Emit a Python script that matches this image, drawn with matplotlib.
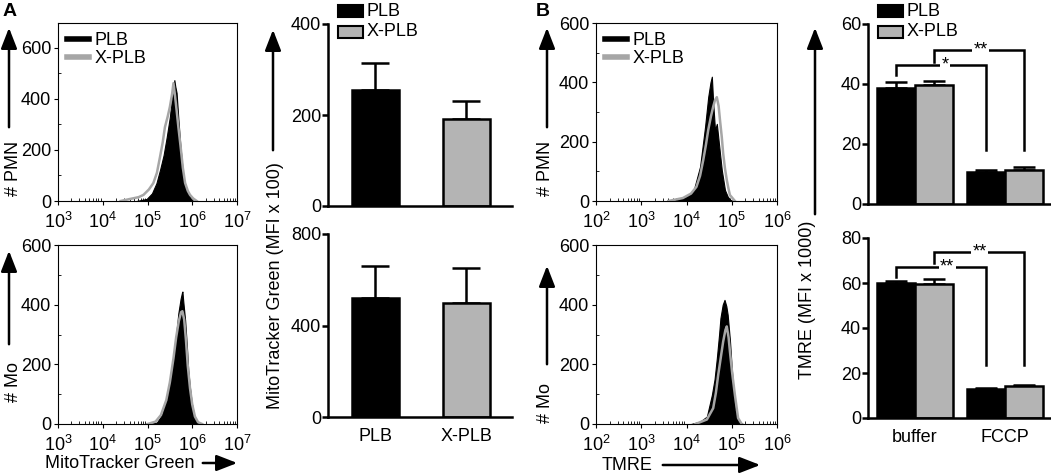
import numpy as np
import matplotlib
matplotlib.use('Agg')
import matplotlib.pyplot as plt
from matplotlib.ticker import LogLocator, NullFormatter, MultipleLocator

plt.rcParams['font.family'] = ['Liberation Sans', 'DejaVu Sans']
plt.rcParams['mathtext.default'] = 'regular'
plt.rcParams['font.size'] = 13

W, H = 1051, 474
GRAY_BAR = '#b4b4b4'
GRAY_LINE = '#a6a6a6'
FS = 13

# ---- histogram data (log10 intensity, counts) ----
a_pmn_plb_x = [4.75, 4.98, 5.10, 5.20, 5.28, 5.36, 5.43, 5.50, 5.54, 5.58, 5.60, 5.62, 5.65, 5.69, 5.73, 5.77, 5.80, 5.85, 5.91, 5.96, 6.02]
a_pmn_plb_y = [0, 8, 30, 70, 122, 180, 251, 330, 396, 440, 474, 450, 424, 320, 227, 150, 94, 60, 31, 12, 0]
a_pmn_xplb_x = [4.40, 4.61, 4.80, 4.91, 5.03, 5.13, 5.21, 5.28, 5.34, 5.39, 5.45, 5.50, 5.55, 5.58, 5.61, 5.65, 5.69, 5.74, 5.79, 5.84, 5.90, 5.95, 6.02, 6.10]
a_pmn_xplb_y = [0, 8, 15, 24, 45, 70, 110, 173, 230, 290, 330, 369, 420, 462, 420, 357, 290, 213, 130, 71, 40, 24, 10, 0]

a_mo_plb_x = [5.05, 5.21, 5.32, 5.43, 5.50, 5.58, 5.64, 5.69, 5.74, 5.77, 5.78, 5.80, 5.84, 5.88, 5.91, 5.95, 5.99, 6.04, 6.10, 6.20]
a_mo_plb_y = [0, 5, 30, 80, 140, 226, 300, 372, 420, 440, 444, 410, 349, 260, 181, 120, 70, 30, 8, 0]
a_mo_xplb_x = [5.00, 5.18, 5.30, 5.42, 5.50, 5.58, 5.64, 5.70, 5.75, 5.78, 5.82, 5.86, 5.90, 5.95, 6.00, 6.06, 6.13, 6.22]
a_mo_xplb_y = [0, 8, 30, 80, 140, 220, 290, 345, 375, 378, 350, 280, 195, 120, 65, 25, 6, 0]

b_pmn_plb_x = [3.70, 4.00, 4.15, 4.30, 4.41, 4.48, 4.53, 4.56, 4.59, 4.63, 4.67, 4.70, 4.74, 4.78, 4.85, 4.91, 4.96, 5.02]
b_pmn_plb_y = [0, 15, 31, 116, 250, 351, 400, 419, 330, 239, 260, 217, 160, 104, 37, 15, 5, 0]
b_pmn_xplb_x = [3.60, 3.92, 4.10, 4.22, 4.30, 4.37, 4.43, 4.48, 4.54, 4.59, 4.63, 4.67, 4.71, 4.74, 4.78, 4.81, 4.85, 4.89, 4.93, 4.96, 5.07]
b_pmn_xplb_y = [0, 10, 25, 48, 85, 138, 190, 239, 285, 318, 340, 350, 320, 273, 215, 161, 110, 71, 40, 20, 0]

b_mo_plb_x = [4.10, 4.30, 4.45, 4.56, 4.62, 4.67, 4.72, 4.75, 4.80, 4.84, 4.88, 4.91, 4.96, 5.00, 5.04, 5.07, 5.14, 5.25]
b_mo_plb_y = [0, 8, 25, 97, 150, 220, 300, 355, 400, 416, 395, 366, 280, 187, 110, 53, 8, 0]
b_mo_xplb_x = [4.20, 4.45, 4.59, 4.65, 4.70, 4.76, 4.81, 4.86, 4.89, 4.93, 4.96, 5.01, 5.07, 5.14, 5.22]
b_mo_xplb_y = [0, 15, 53, 105, 164, 225, 276, 315, 327, 290, 243, 170, 97, 20, 0]

# ---- bar data ----
groups_a = ['PLB', 'X-PLB']
mito_pmn = [255, 191]
mito_pmn_err = [59, 40]
mito_mo = [520, 498]
mito_mo_err = [140, 152]

groups_b = ['buffer', 'FCCP']
tmre_pmn_plb = [38.7, 10.7]
tmre_pmn_plb_err = [2.0, 0.5]
tmre_pmn_xplb = [39.7, 11.2]
tmre_pmn_xplb_err = [1.3, 1.0]
tmre_mo_plb = [60.1, 12.9]
tmre_mo_plb_err = [0.6, 0.5]
tmre_mo_xplb = [59.6, 14.4]
tmre_mo_xplb_err = [2.2, 0.4]


def rect(l, r, t, b):
    return [l / W, (H - b) / H, (r - l) / W, (b - t) / H]


def fx(px):
    return px / W


def fy(py):
    return (H - py) / H


fig = plt.figure(figsize=(W / 100, H / 100), dpi=100)


def hist_ax(pos, xlo, xhi, ytop, plb, xplb, legend=False):
    ax = fig.add_axes(pos)
    ax.fill_between(10 ** np.array(plb[0]), plb[1], 0, color='black', lw=0.8, edgecolor='black')
    ax.plot(10 ** np.array(xplb[0]), xplb[1], color=GRAY_LINE, lw=1.8)
    ax.set_xscale('log')
    ax.set_xlim(10 ** xlo, 10 ** xhi)
    ax.set_ylim(0, ytop)
    ax.set_yticks([0, 200, 400, 600])
    ax.yaxis.set_minor_locator(MultipleLocator(100))
    ax.xaxis.set_major_locator(LogLocator(base=10, numticks=10))
    ax.xaxis.set_minor_locator(LogLocator(base=10, subs=np.arange(2, 10), numticks=20))
    ax.xaxis.set_minor_formatter(NullFormatter())
    ax.tick_params(which='major', direction='out', length=3, width=0.8, labelsize=FS, pad=2)
    ax.tick_params(axis='x', which='major', pad=5)
    ax.tick_params(which='minor', direction='in', length=2, width=0.6)
    for s in ax.spines.values():
        s.set_linewidth(0.8)
    if legend:
        ax.plot([], [], color='black', lw=4, label='PLB')
        ax.plot([], [], color=GRAY_LINE, lw=4, label='X-PLB')
        h, l = ax.get_legend_handles_labels()
        ax.legend(h[-2:], l[-2:], loc='upper left', frameon=False, fontsize=FS,
                  handlelength=1.2, handletextpad=0.3, labelspacing=0.05,
                  borderaxespad=0.2, borderpad=0.3)
    return ax


def bar_style(ax):
    for s in ['top', 'right']:
        ax.spines[s].set_visible(False)
    for s in ['left', 'bottom']:
        ax.spines[s].set_linewidth(1.8)
    ax.tick_params(axis='y', direction='out', length=4, width=1.8, labelsize=FS, pad=1)
    ax.tick_params(axis='x', length=0, labelsize=FS, pad=8)


def bar_legend(x0, y0):
    # legend boxes above the axes, in figure pixels
    for i, (c, lab) in enumerate([('black', 'PLB'), (GRAY_BAR, 'X-PLB')]):
        top = y0 + i * 21
        fig.patches.append(plt.Rectangle((fx(x0), fy(top + 12)), 25 / W, 12 / H,
                                         transform=fig.transFigure, facecolor=c,
                                         edgecolor='black', lw=1.5))
        fig.text(fx(x0 + 29), fy(top + 6), lab, fontsize=FS, va='center', ha='left')


# ---- panel A histograms ----
hist_ax(rect(58, 237, 23, 201), 3, 7, 698, (a_pmn_plb_x, a_pmn_plb_y), (a_pmn_xplb_x, a_pmn_xplb_y), legend=True)
hist_ax(rect(58, 237, 245, 424), 3, 7, 600, (a_mo_plb_x, a_mo_plb_y), (a_mo_xplb_x, a_mo_xplb_y))

# ---- panel A bars ----
xa = np.arange(len(groups_a))
for pos, vals, errs, top, ticks, showx in [
        (rect(328, 512, 24, 206), mito_pmn, mito_pmn_err, 400, [0, 200, 400], False),
        (rect(328, 512, 234, 417), mito_mo, mito_mo_err, 800, [0, 400, 800], True)]:
    ax = fig.add_axes(pos)
    ax.bar(xa, vals, width=0.52, color=['black', GRAY_BAR], edgecolor='black', lw=1.8, zorder=2)
    ax.errorbar(xa, vals, yerr=[[0, 0], errs], fmt='none', ecolor='black', elinewidth=1.8,
                capsize=10, capthick=1.8, zorder=1)
    ax.set_xlim(-0.52, 1.5)
    ax.set_ylim(0, top)
    ax.set_yticks(ticks)
    bar_style(ax)
    ax.set_xticks(xa)
    if showx:
        ax.set_xticklabels(groups_a)
    else:
        ax.set_xticklabels([])
bar_legend(338, 5)

# ---- panel B histograms ----
hist_ax(rect(596, 777, 23, 201), 2, 6, 600, (b_pmn_plb_x, b_pmn_plb_y), (b_pmn_xplb_x, b_pmn_xplb_y), legend=True)
hist_ax(rect(596, 777, 245, 424), 2, 6, 600, (b_mo_plb_x, b_mo_plb_y), (b_mo_xplb_x, b_mo_xplb_y))

# ---- panel B bars ----
xb = np.arange(len(groups_b))
bw = 0.42


def bracket(ax, x1, y1, x2, ytop, yend, label, xl):
    ax.plot([x1, x1, x2, x2], [y1, ytop, ytop, yend], color='black', lw=1.8,
            solid_joinstyle='miter', zorder=3)
    ax.text(xl, ytop, label, ha='center', va='center', fontsize=FS,
            bbox=dict(facecolor='white', edgecolor='none', pad=1), zorder=4)


for pos, plb, plb_e, xplb, xplb_e, top, ticks, br, showx in [
        (rect(868, 1050, 24, 204), tmre_pmn_plb, tmre_pmn_plb_err, tmre_pmn_xplb, tmre_pmn_xplb_err,
         60, [0, 20, 40, 60], [(43, 46.3, 18, '*', 0.34), (47.3, 51.3, 18, '**', 0.73)], False),
        (rect(868, 1050, 238, 418), tmre_mo_plb, tmre_mo_plb_err, tmre_mo_xplb, tmre_mo_xplb_err,
         80, [0, 20, 40, 60, 80], [(62.8, 67.2, 23.5, '**', 0.36), (68.9, 73.9, 23.5, '**', 0.72)], True)]:
    ax = fig.add_axes(pos)
    ax.bar(xb - bw / 2, plb, width=bw, color='black', edgecolor='black', lw=1.8, zorder=2)
    ax.bar(xb + bw / 2, xplb, width=bw, color=GRAY_BAR, edgecolor='black', lw=1.8, zorder=2)
    ax.errorbar(xb - bw / 2, plb, yerr=[[0, 0], plb_e], fmt='none', ecolor='black',
                elinewidth=1.8, capsize=8, capthick=1.8, zorder=1)
    ax.errorbar(xb + bw / 2, xplb, yerr=[[0, 0], xplb_e], fmt='none', ecolor='black',
                elinewidth=1.8, capsize=8, capthick=1.8, zorder=1)
    ax.set_xlim(-0.52, 1.5)
    ax.set_ylim(0, top)
    ax.set_yticks(ticks)
    bar_style(ax)
    ax.set_xticks(xb)
    ax.set_xticklabels(groups_b if showx else [])
    (l1, t1, e1, s1, x1), (l2, t2, e2, s2, x2) = br
    bracket(ax, -bw / 2, l1, 1 - bw / 2, t1, e1, s1, x1)
    bracket(ax, bw / 2, l2, 1 + bw / 2, t2, e2, s2, x2)
bar_legend(878, 5)

# ---- labels and arrows ----
def arrow(x0, y0, x1, y1):
    fig.add_artist(matplotlib.patches.FancyArrowPatch(
        (fx(x0), fy(y0)), (fx(x1), fy(y1)), transform=fig.transFigure,
        arrowstyle='-|>,head_width=0.35,head_length=0.9', mutation_scale=14,
        lw=1.8, color='black'))


arrow(9, 130, 9, 25)
fig.text(fx(14), fy(168), '# PMN', rotation=90, ha='center', va='center', fontsize=FS)
arrow(9, 347, 9, 248)
fig.text(fx(14), fy(382), '# Mo', rotation=90, ha='center', va='center', fontsize=FS)
fig.text(fx(120), fy(463), 'MitoTracker Green', ha='center', va='center', fontsize=FS)
arrow(200, 463, 240, 463)

arrow(273, 153, 273, 27)
fig.text(fx(276), fy(286), 'MitoTracker Green (MFI x 100)', rotation=90, ha='center', va='center', fontsize=FS)

arrow(547, 130, 547, 25)
fig.text(fx(545), fy(168), '# PMN', rotation=90, ha='center', va='center', fontsize=FS)
arrow(547, 367, 547, 263)
fig.text(fx(545), fy(403), '# Mo', rotation=90, ha='center', va='center', fontsize=FS)
fig.text(fx(627), fy(465), 'TMRE', ha='center', va='center', fontsize=FS)
arrow(660, 465, 763, 465)

arrow(815, 217, 815, 25)
fig.text(fx(808), fy(300), 'TMRE (MFI x 1000)', rotation=90, ha='center', va='center', fontsize=FS)

fig.text(fx(3), fy(11), 'A', fontsize=14, fontweight='bold', ha='left', va='center')
fig.text(fx(536), fy(11), 'B', fontsize=14, fontweight='bold', ha='left', va='center')

fig.savefig('out.png', dpi=100)
